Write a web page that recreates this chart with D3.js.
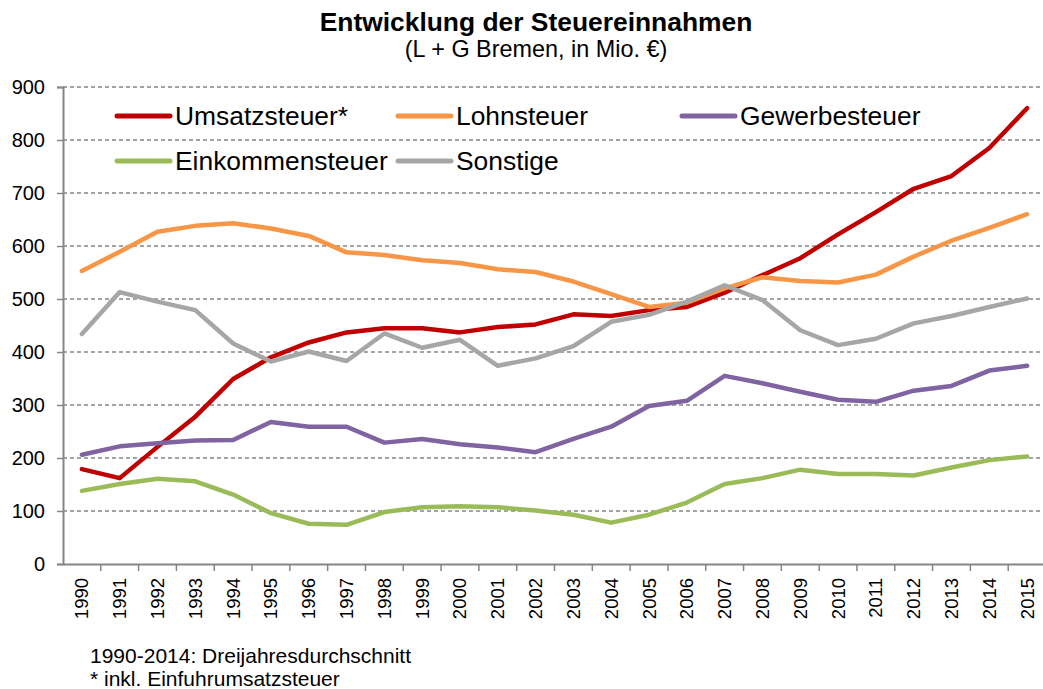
<!DOCTYPE html>
<html>
<head>
<meta charset="utf-8">
<script src="https://cdn.jsdelivr.net/npm/d3@7"></script>
<style>
  body { margin: 0; background: #fff; }
  svg { display: block; font-family: "Liberation Sans", Arial, sans-serif; }
</style>
</head>
<body>
<div id="chart"></div>
<script>
const years = ["1990","1991","1992","1993","1994","1995","1996","1997","1998","1999","2000","2001","2002","2003","2004","2005","2006","2007","2008","2009","2010","2011","2012","2013","2014","2015"];

const umsatzsteuer = [179,162,221,278,349,390,418,437,445,445,437,447,452,471,468,479,485,512,545,577,622,664,708,732,785,860];
const lohnsteuer = [553,589,627,638,643,633,619,588,583,573,568,556,551,533,509,485,493,520,541,534,531,546,580,610,634,660];
const gewerbesteuer = [206,222,228,233,234,268,259,259,229,236,226,220,211,236,259,298,308,355,341,325,310,306,327,336,365,374];
const einkommensteuer = [138,151,161,156,131,96,76,74,98,107,109,107,101,93,78,93,116,151,162,178,170,170,167,182,196,203];
const sonstige = [434,513,495,479,416,382,401,383,435,408,423,374,388,411,457,470,495,526,498,441,413,425,454,468,485,501];

const yTicks = [0,100,200,300,400,500,600,700,800,900];

const series = [
  { name: "Umsatzsteuer*", values: umsatzsteuer, color: "#C00000" },
  { name: "Lohnsteuer", values: lohnsteuer, color: "#F79646" },
  { name: "Gewerbesteuer", values: gewerbesteuer, color: "#8064A2" },
  { name: "Einkommensteuer", values: einkommensteuer, color: "#9BBB59" },
  { name: "Sonstige", values: sonstige, color: "#A6A6A6" }
];

const width = 1043, height = 689;
const plotLeft = 63, plotRight = 1046, plotTop = 87, plotBottom = 564;

const svg = d3.select("#chart").append("svg")
  .attr("width", width)
  .attr("height", height);

const x = d3.scaleBand().domain(years).range([plotLeft, plotRight]).padding(0);
const y = d3.scaleLinear().domain([0, 900]).range([plotBottom, plotTop]);

// titel
svg.append("text")
  .attr("x", 536).attr("y", 31)
  .attr("text-anchor", "middle")
  .style("font-size", "26.4px").style("font-weight", "bold")
  .text("Entwicklung der Steuereinnahmen");
svg.append("text")
  .attr("x", 536).attr("y", 57)
  .attr("text-anchor", "middle")
  .style("font-size", "23.4px")
  .text("(L + G Bremen, in Mio. €)");

// gitterlinien
svg.append("g")
  .selectAll("line")
  .data(yTicks.filter(d => d > 0))
  .enter().append("line")
  .attr("x1", plotLeft).attr("x2", width)
  .attr("y1", d => y(d)).attr("y2", d => y(d))
  .attr("stroke", "#868686")
  .attr("stroke-width", 1.3)
  .attr("stroke-dasharray", "4,3");

// y achse
const yAxis = svg.append("g")
  .attr("transform", `translate(${plotLeft},0)`)
  .call(d3.axisLeft(y).tickValues(yTicks).tickSize(6).tickPadding(12));
yAxis.select(".domain").attr("stroke", "#868686").attr("stroke-width", 2);
yAxis.selectAll(".tick line").attr("stroke", "#868686").attr("stroke-width", 1.5);
yAxis.selectAll(".tick text").style("font-size", "20px").attr("fill", "#000");

// x achse
const xAxis = svg.append("g")
  .attr("transform", `translate(0,${plotBottom})`)
  .call(d3.axisBottom(x).tickSize(0).tickPadding(0));
xAxis.select(".domain").attr("stroke", "#868686").attr("stroke-width", 2);
xAxis.selectAll(".tick text")
  .style("font-size", "18.5px").attr("fill", "#000")
  .attr("text-anchor", "end")
  .attr("dy", "0.35em")
  .attr("y", 0)
  .attr("transform", "translate(0,14) rotate(-90)");

// striche zwischen den kategorien
const boundaries = years.map(d => x(d)).concat([x(years[years.length - 1]) + x.bandwidth()]);
svg.append("g")
  .selectAll("line")
  .data(boundaries.slice(1))
  .enter().append("line")
  .attr("x1", d => d).attr("x2", d => d)
  .attr("y1", plotBottom).attr("y2", plotBottom + 7)
  .attr("stroke", "#868686").attr("stroke-width", 1.5);

// linien
const line = d3.line()
  .x((d, i) => x(years[i]) + x.bandwidth() / 2)
  .y(d => y(d));

svg.append("g")
  .selectAll("path")
  .data(series)
  .enter().append("path")
  .attr("d", d => line(d.values))
  .attr("fill", "none")
  .attr("stroke", d => d.color)
  .attr("stroke-width", 4.5)
  .attr("stroke-linejoin", "round")
  .attr("stroke-linecap", "round");

// legende
const legendPos = [[117, 116], [398, 116], [682, 116], [117, 161], [398, 161]];
const legend = svg.append("g")
  .selectAll("g")
  .data(series)
  .enter().append("g")
  .attr("transform", (d, i) => `translate(${legendPos[i][0]},${legendPos[i][1]})`);
legend.append("line")
  .attr("x1", 0).attr("x2", 53)
  .attr("stroke", d => d.color)
  .attr("stroke-width", 5)
  .attr("stroke-linecap", "round");
legend.append("text")
  .attr("x", 58).attr("dy", "0.35em")
  .style("font-size", "26.4px")
  .text(d => d.name);

// fussnote
svg.append("text")
  .attr("x", 90).attr("y", 663)
  .style("font-size", "21px")
  .text("1990-2014: Dreijahresdurchschnitt");
svg.append("text")
  .attr("x", 90).attr("y", 686)
  .style("font-size", "21px")
  .text("* inkl. Einfuhrumsatzsteuer");
</script>
</body>
</html>
